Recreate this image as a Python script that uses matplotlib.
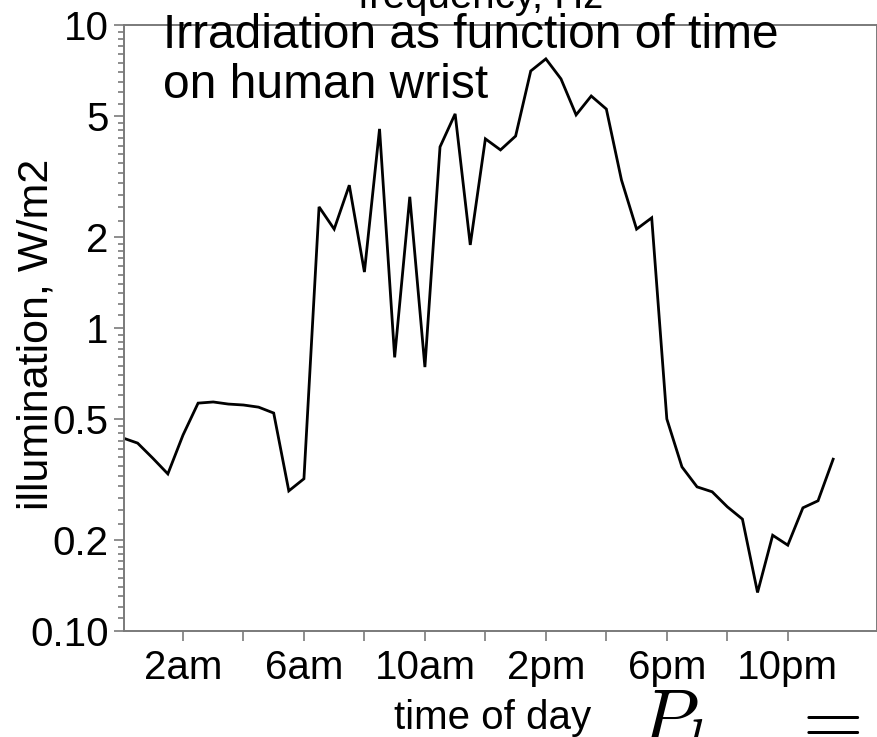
import numpy as np
import matplotlib
matplotlib.use("Agg")
import matplotlib.pyplot as plt
from matplotlib.ticker import FixedLocator, NullFormatter

# irradiation on the wrist, sampled every half hour
hours = [0, 0.5, 1, 1.5, 2, 2.5, 3, 3.5, 4, 4.5, 5, 5.5, 6, 6.5, 7, 7.5,
         8, 8.5, 9, 9.5, 10, 10.5, 11, 11.5, 12, 12.5, 13, 13.5, 14, 14.5,
         15, 15.5, 16, 16.5, 17, 17.5, 18, 18.5, 19, 19.5, 20, 20.5, 21,
         21.5, 22, 22.5, 23, 23.5]
irr = [0.434, 0.417, 0.372, 0.330, 0.443, 0.565, 0.570, 0.561, 0.557, 0.548,
       0.524, 0.290, 0.318, 2.51, 2.12, 2.96, 1.53, 4.54, 0.80, 2.71, 0.743,
       3.96, 5.09, 1.88, 4.21, 3.87, 4.30, 7.05, 7.73, 6.64, 5.05, 5.83, 5.28,
       3.08, 2.12, 2.31, 0.501, 0.348, 0.299, 0.288, 0.257, 0.234, 0.134,
       0.207, 0.192, 0.255, 0.269, 0.369]

xticks = [2, 6, 10, 14, 18, 22]
xticklabels = ["2am", "6am", "10am", "2pm", "6pm", "10pm"]
xminor = [4, 8, 12, 16, 20]
yticks = [0.1, 0.2, 0.5, 1, 2, 5, 10]
yticklabels = ["0.10", "0.2", "0.5", "1", "2", "5", "10"]

narrow = ["Liberation Sans Narrow", "Liberation Sans", "DejaVu Sans"]
regular = ["Liberation Sans", "DejaVu Sans"]

# minor ticks on the log axis
yminor = []
for b in [0.1, 1]:
    yminor += list(b * np.arange(1.1, 1.95, 0.1))
    yminor += list(b * np.arange(2.25, 4.8, 0.25))
    yminor += list(b * np.arange(5.5, 9.6, 0.5))

gray = "#7a7a7a"
plt.rcParams["mathtext.fontset"] = "cm"
fig = plt.figure(figsize=(8.78, 7.37), dpi=100)
ax = fig.add_axes([124 / 878, 1 - 631 / 737, (877 - 124) / 878, (631 - 25) / 737])

ax.plot(hours, irr, color="black", lw=2.0, solid_joinstyle="miter")
ax.set_yscale("log")
ax.set_ylim(0.1, 10)
ax.set_xlim(0.05, 24.95)

ax.yaxis.set_major_locator(FixedLocator(yticks))
ax.set_yticklabels(yticklabels)
ax.yaxis.set_minor_locator(FixedLocator(yminor))
ax.yaxis.set_minor_formatter(NullFormatter())
ax.set_xticks(xticks)
ax.set_xticklabels(xticklabels)
ax.set_xticks(xminor, minor=True)

for s in ax.spines.values():
    s.set_color(gray)
    s.set_linewidth(1.4)
ax.tick_params(which="both", direction="out", color=gray, width=1.2,
               top=False, right=False)
ax.tick_params(axis="y", which="major", length=7, pad=4)
ax.tick_params(axis="y", which="minor", length=4)
ax.tick_params(axis="x", which="both", length=7, pad=6)
for lab in ax.get_xticklabels() + ax.get_yticklabels():
    lab.set_family(narrow)
    lab.set_fontsize(29)

ax.set_xlabel("time of day", family=narrow, fontsize=29)
ax.xaxis.set_label_coords(0.49, -0.112)
ax.set_ylabel("illumination, W/m2", family=narrow, fontsize=31)
ax.yaxis.set_label_coords(-0.09, 0.49)

fig.text(163 / 878, 1 - 48 / 737, "Irradiation as function of time",
         family=regular, fontsize=34.5, va="baseline")
fig.text(163 / 878, 1 - 98 / 737, "on human wrist",
         family=regular, fontsize=34.5, va="baseline")

# leftovers from neighbouring panels, clipped by the figure edge
fig.text(481 / 878, 1 - 8 / 737, "frequency, Hz", family=narrow,
         fontsize=29, ha="center", va="baseline")
fig.text(638 / 878, 1 - 745 / 737, r"$P_{l}\quad\, = t$", fontsize=56,
         va="baseline")

fig.savefig("out.png", dpi=100)
